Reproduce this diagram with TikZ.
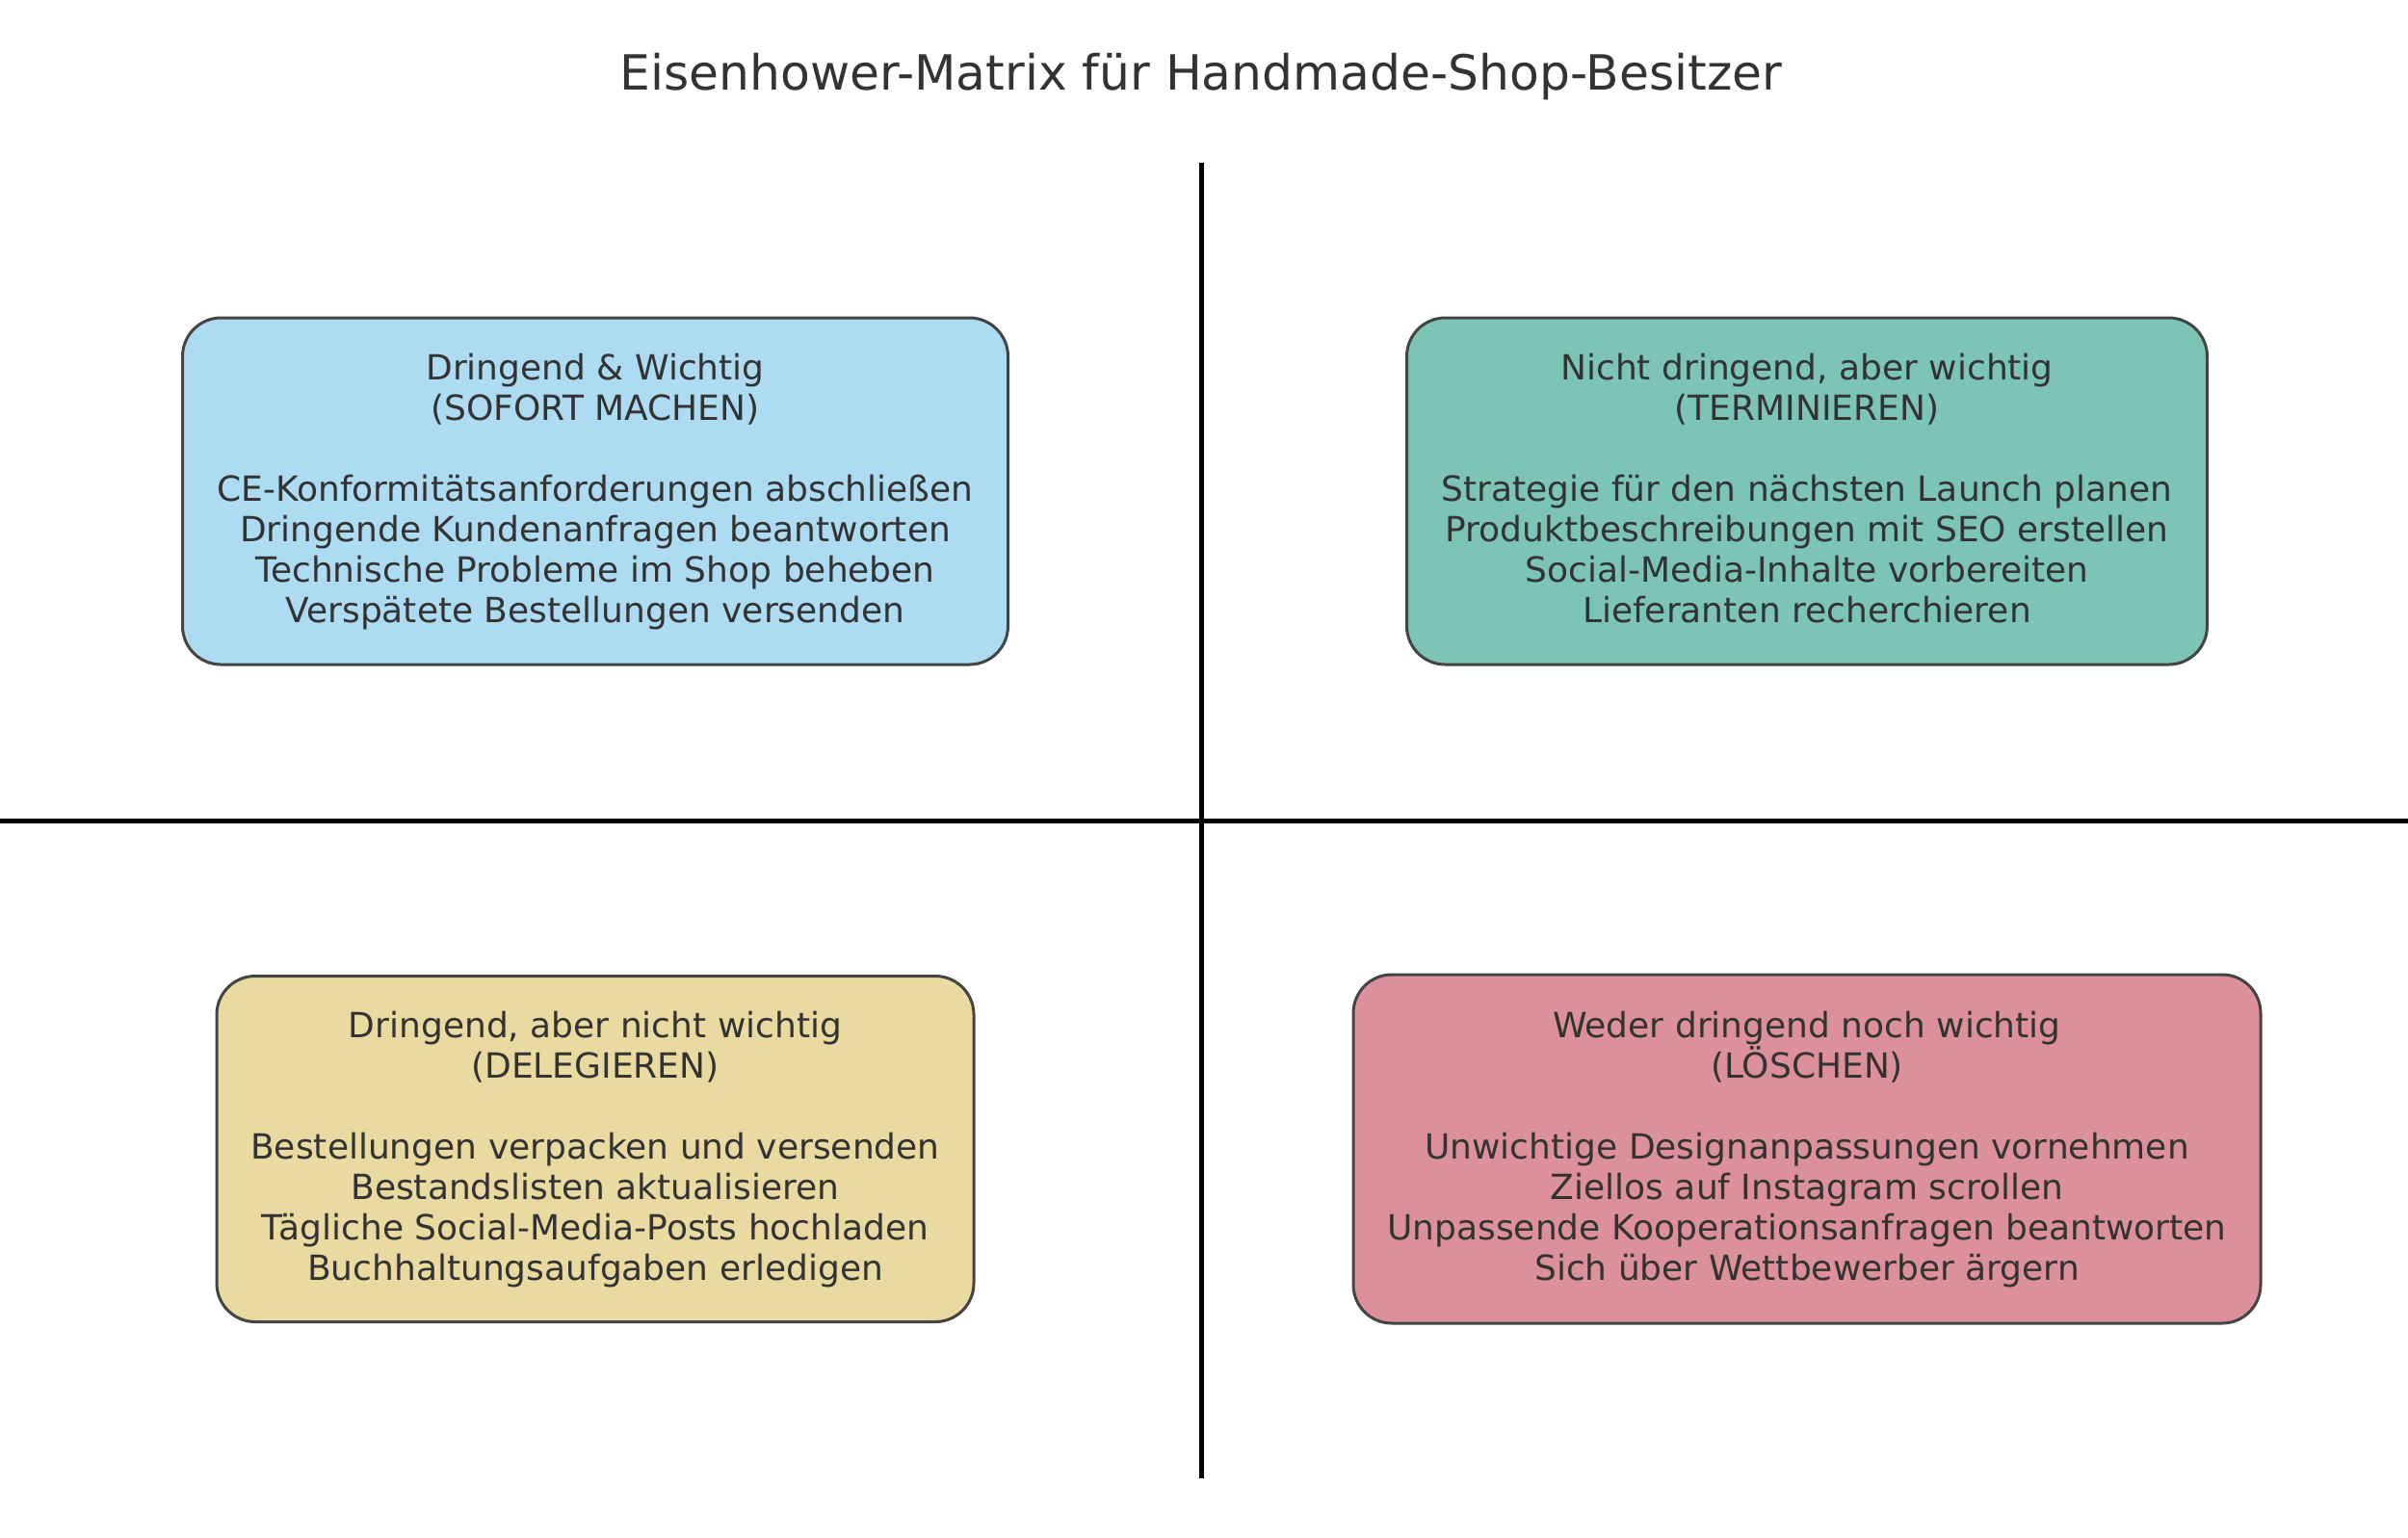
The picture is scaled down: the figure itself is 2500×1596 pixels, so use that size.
\documentclass[tikz,border=0pt]{standalone}
\usepackage{fontspec}
\setmainfont{DejaVu Sans}
\definecolor{txt}{HTML}{333333}
\definecolor{edge}{HTML}{444444}
\definecolor{qblue}{HTML}{ADDBF1}
\definecolor{qgreen}{HTML}{7BC4B6}
\definecolor{qyellow}{HTML}{E8DAA0}
\definecolor{qred}{HTML}{DC909B}
\newcommand{\topst}{\rule{0pt}{9pt}}
\newcommand{\botst}{\rule[-2.52pt]{0pt}{2.52pt}}
\newcommand{\quadfont}{\fontsize{10.8}{12.6}\selectfont\lineskiplimit=-100pt\relax}
\tikzset{
  quad/.style={draw=edge, line width=0.9pt, rounded corners=12pt, align=center,
    text=txt, font=\quadfont, inner sep=0pt},
  axis/.style={draw=black, line width=1.5pt},
}
\begin{document}
\begin{tikzpicture}[x=0.3pt, y=-0.3pt]
\useasboundingbox[fill=white] (0,0) rectangle (2500,1596);
\node[text=txt, font=\fontsize{15.1}{18}\selectfont] (title) at (1247,80) {Eisenhower-Matrix für Handmade-Shop-Besitzer};
\coordinate (vt) at (1247,169);
\coordinate (vb) at (1247,1535);
\coordinate (hl) at (0,852);
\coordinate (hr) at (2500,852);
\draw[axis] (vt) -- (vb);
\draw[axis] (hl) -- (hr);
\node[quad, fill=qblue, minimum width=857*0.3pt, minimum height=360*0.3pt] (q1) at (618,510)
 {\topst Dringend \& Wichtig\\(SOFORT MACHEN)\\\mbox{}\\CE-Konformitätsanforderungen abschließen\\Dringende Kundenanfragen beantworten\\Technische Probleme im Shop beheben\\Verspätete Bestellungen versenden\botst};
\node[quad, fill=qgreen, minimum width=831*0.3pt, minimum height=360*0.3pt] (q2) at (1876,510)
 {\topst Nicht dringend, aber wichtig\\(TERMINIEREN)\\\mbox{}\\Strategie für den nächsten Launch planen\\Produktbeschreibungen mit SEO erstellen\\Social-Media-Inhalte vorbereiten\\Lieferanten recherchieren\botst};
\node[quad, fill=qyellow, minimum width=786*0.3pt, minimum height=359*0.3pt] (q3) at (618,1193)
 {\topst Dringend, aber nicht wichtig\\(DELEGIEREN)\\\mbox{}\\Bestellungen verpacken und versenden\\Bestandslisten aktualisieren\\Tägliche Social-Media-Posts hochladen\\Buchhaltungsaufgaben erledigen\botst};
\node[quad, fill=qred, minimum width=942*0.3pt, minimum height=362*0.3pt] (q4) at (1876,1193)
 {\topst Weder dringend noch wichtig\\(LÖSCHEN)\\\mbox{}\\Unwichtige Designanpassungen vornehmen\\Ziellos auf Instagram scrollen\\Unpassende Kooperationsanfragen beantworten\\Sich über Wettbewerber ärgern\botst};
\end{tikzpicture}
\end{document}
